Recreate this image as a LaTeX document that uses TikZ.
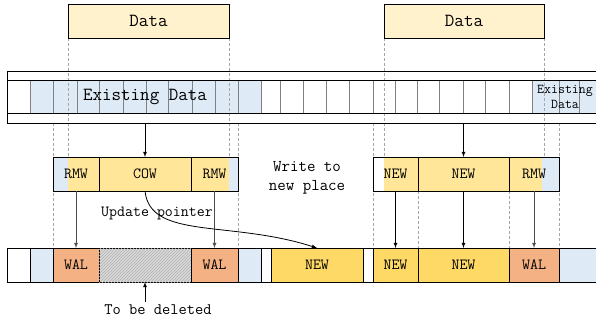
\documentclass[tikz,border=0pt]{standalone}
\renewcommand{\familydefault}{\ttdefault}
\usepackage{tikz}
\usetikzlibrary{positioning, arrows, patterns, backgrounds, calc}

\definecolor{capblue}{HTML}{DEEAF6}
\definecolor{datafill}{HTML}{FFF2CC}
\definecolor{midyel}{HTML}{FFE699}
\definecolor{newgold}{HTML}{FFD966}
\definecolor{walorange}{HTML}{F4B183}
\definecolor{delgrey}{HTML}{D9D9D9}

\tikzset{
  cell/.style={draw, rectangle, anchor=north west, inner sep=0pt, outer sep=0pt,
    minimum height=34pt, line width=0.9pt, font=\fontsize{15.5}{17}\selectfont},
  leftpart/.style 2 args={path picture={\fill[#1] (path picture bounding box.south west) rectangle ([xshift=#2]path picture bounding box.north west);}},
  rightpart/.style 2 args={path picture={\fill[#1] (path picture bounding box.south east) rectangle ([xshift=-#2]path picture bounding box.north east);}},
  guide/.style={densely dashed, gray!70, line width=0.6pt},
  flow/.style={-latex, line width=0.8pt},
}

\begin{document}
\begin{tikzpicture}[x=1pt, y=-1pt]
\useasboundingbox (0,0) rectangle (596,322);

% the two incoming blocks
\node[cell, fill=datafill, minimum width=161pt, minimum height=34pt, font=\fontsize{18.5}{21}\selectfont] (dat1) at (68,4) {Data};
\node[cell, fill=datafill, minimum width=160pt, minimum height=34pt, font=\fontsize{18.5}{21}\selectfont] (dat2) at (384,4) {Data};

% storage strip
\begin{scope}[on background layer]
\fill[capblue] (30,80) rectangle (261,113);
\fill[capblue] (532,80) rectangle (596,113);
\end{scope}
\foreach \x in {30,53,77,99,123,146,168,192,215,238,261,280,303,326,349,373,395,417,439,463,485,509,532,559,579}
  \draw[gray, line width=0.8pt] (\x,80) -- (\x,113);
\draw[line width=1pt] (596,71) -- (7,71) -- (7,123) -- (596,123);
\draw[line width=1pt] (7,80) -- (596,80);
\draw[line width=1pt] (7,113) -- (596,113);
\node[font=\fontsize{18.5}{21}\selectfont] (old1) at (145,97) {Existing Data};
\node[align=center, inner sep=0pt, font=\fontsize{13.5}{15}\selectfont] (old2) at (565,97) {Existing\\Data};
\coordinate (src1) at (145,123);
\coordinate (src2) at (463.5,123);

% read-modify-write / copy-on-write
\node[cell, fill=midyel, leftpart={capblue}{15pt}, minimum width=46pt] (rmw1) at (53,157) {RMW};
\node[cell, fill=midyel, minimum width=92pt] (cow) at (99,157) {COW};
\node[cell, fill=midyel, rightpart={capblue}{9pt}, minimum width=47pt] (rmw2) at (191,157) {RMW};
\node[cell, fill=midyel, leftpart={white}{11pt}, minimum width=45pt] (new1) at (373,157) {NEW};
\node[cell, fill=midyel, minimum width=91pt] (new2) at (418,157) {NEW};
\node[cell, fill=midyel, rightpart={capblue}{17pt}, minimum width=50pt] (rmw3) at (509,157) {RMW};

% on-disk layout after write
\node[cell, fill=white, minimum width=23pt] (b1) at (7,248) {};
\node[cell, fill=capblue, minimum width=23pt] (b2) at (30,248) {};
\node[cell, fill=walorange, minimum width=46pt] (wal1) at (53,248) {WAL};
\node[cell, fill=delgrey, postaction={pattern=north east lines, pattern color=gray!60}, minimum width=92pt] (del) at (99,248) {};
\node[cell, fill=walorange, minimum width=47pt] (wal2) at (191,248) {WAL};
\node[cell, fill=capblue, minimum width=23pt] (b3) at (238,248) {};
\node[cell, fill=white, minimum width=10pt] (b4) at (261,248) {};
\node[cell, fill=newgold, minimum width=92pt] (new0) at (271,248) {NEW};
\node[cell, fill=white, minimum width=10pt] (b5) at (363,248) {};
\node[cell, fill=newgold, minimum width=45pt] (new3) at (373,248) {NEW};
\node[cell, fill=newgold, minimum width=91pt] (new4) at (418,248) {NEW};
\node[cell, fill=walorange, minimum width=50pt] (wal3) at (509,248) {WAL};
\node[cell, fill=capblue, minimum width=37pt] (b6) at (559,248) {};

% labels
\node[font=\fontsize{15.5}{17}\selectfont] (upd) at (157,213) {Update pointer};
\node[align=center, inner sep=0pt, font=\fontsize{16.5}{19}\selectfont] (wrt) at (307,178) {Write to\\new place};
\node[font=\fontsize{16}{18}\selectfont] (gone) at (158,310) {To be deleted};

% guide lines
\begin{scope}[on background layer]
\draw[guide] (dat1.south west) -- (dat1.south west |- rmw1.north);
\draw[guide] (dat1.south east) -- (dat1.south east |- rmw2.north);
\draw[guide] (dat2.south west) -- (dat2.south west |- new1.north);
\draw[guide] (dat2.south east) -- (dat2.south east |- rmw3.north);
\draw[guide] (rmw1.north west |- src1) -- (wal1.north west);
\draw[guide] (rmw2.north east |- src1) -- (wal2.north east);
\draw[guide] (new1.north west |- src1) -- (new3.north west);
\draw[guide] (rmw3.north east |- src1) -- (wal3.north east);
\draw[guide] (new2.south west) -- (new4.north west);
\draw[guide] (new2.south east) -- (new4.north east);
\end{scope}

% arrows
\draw[flow] (src1) -- (cow.north);
\draw[flow] (src2) -- (new2.north);
\draw[flow, gray!60!black] (rmw1.south) -- (wal1.north);
\draw[flow, gray!60!black] (rmw2.south) -- (wal2.north);
\draw[flow] (new1.south) -- (new3.north);
\draw[flow] (new2.south) -- (new4.north);
\draw[flow, gray!60!black] (rmw3.south) -- (wal3.north);
\draw[flow] (cow.south) .. controls (150,240) and (230,220) .. (new0.north);
\draw[flow] (gone.north -| del.south) -- (del.south);
\end{tikzpicture}
\end{document}
